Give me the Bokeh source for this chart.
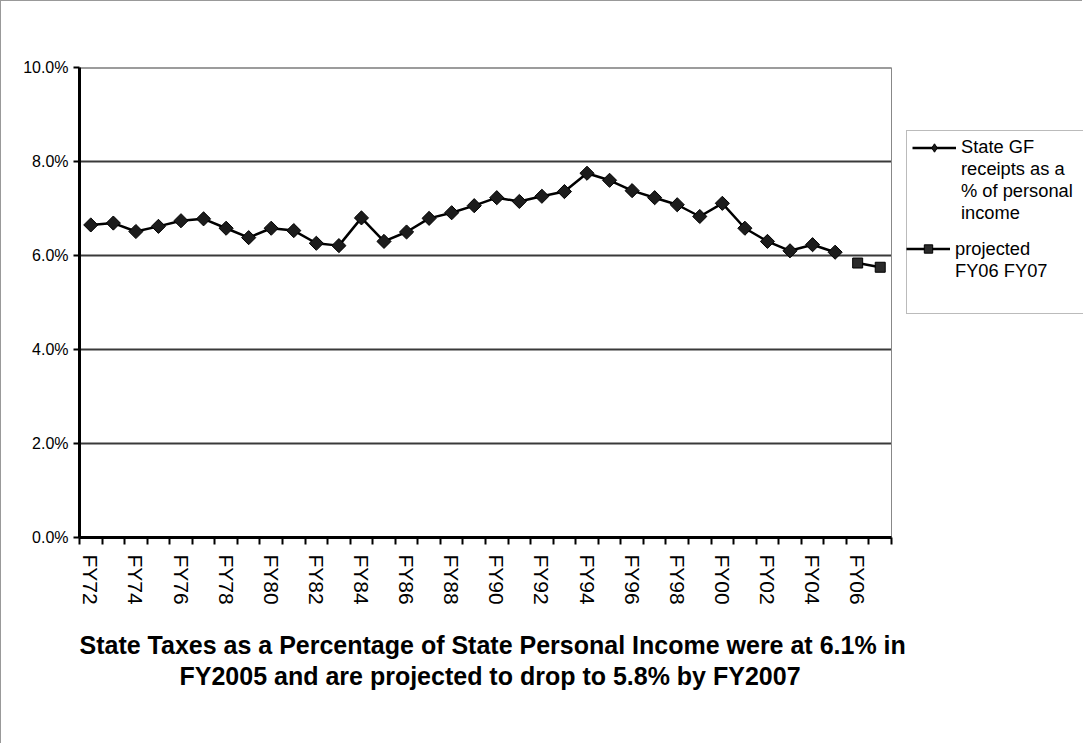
import math
from bokeh.plotting import figure
from bokeh.models import (Range1d, FixedTicker, PrintfTickFormatter, Legend,
                          LegendItem, Title)
from bokeh.embed import file_html
from bokeh.resources import INLINE

# ---- data -------------------------------------------------------------
years = ["FY72", "FY73", "FY74", "FY75", "FY76", "FY77", "FY78", "FY79", "FY80",
         "FY81", "FY82", "FY83", "FY84", "FY85", "FY86", "FY87", "FY88", "FY89",
         "FY90", "FY91", "FY92", "FY93", "FY94", "FY95", "FY96", "FY97", "FY98",
         "FY99", "FY00", "FY01", "FY02", "FY03", "FY04", "FY05", "FY06", "FY07"]
gf_pct = [6.65, 6.69, 6.51, 6.62, 6.74, 6.78, 6.58, 6.38, 6.58, 6.53, 6.26, 6.21,
          6.80, 6.30, 6.50, 6.79, 6.91, 7.06, 7.23, 7.15, 7.26, 7.36, 7.75, 7.60,
          7.38, 7.23, 7.08, 6.83, 7.11, 6.58, 6.30, 6.10, 6.23, 6.07]
proj_years = ["FY06", "FY07"]
proj_pct = [5.84, 5.75]
y_ticks = [0, 2, 4, 6, 8, 10]
label_years = years[::2]
legend_gf = ["State GF", "receipts as a", "% of personal", "income"]
legend_proj = ["projected", "FY06 FY07"]
title_lines = ["State Taxes as a Percentage of State Personal Income were at 6.1% in",
               "FY2005 and are projected to drop to 5.8% by FY2007"]

n = len(years)
gf_x = [years.index(y) for y in years[:len(gf_pct)]]
proj_x = [years.index(y) for y in proj_years]

FONT = "Liberation Sans"
W, H = 1082, 743
LEFT, TOP, BOTTOM = 78, 66, 207
PLOT_W = 812                      # pixel width of the category area
FRAME_W = W - LEFT                # frame also holds the legend on the right
x_lo = -0.5
x_hi = x_lo + n * FRAME_W / PLOT_W

p = figure(width=W, height=H, output_backend="svg", toolbar_location=None,
           x_range=Range1d(x_lo, x_hi), y_range=Range1d(0, 10),
           min_border_left=LEFT, min_border_right=0, min_border_top=TOP,
           min_border_bottom=BOTTOM)
p.background_fill_color = "white"
p.border_fill_color = "white"
p.outline_line_color = None
p.styles = {"border-left": "1px solid #999999", "border-top": "1px solid #999999"}

# x axis: ticks at category boundaries, labels at every other category
xa = p.xaxis[0]
xa.bounds = (-0.5, n - 0.5)
xa.ticker = FixedTicker(ticks=[years.index(y) for y in label_years],
                        minor_ticks=[i - 0.5 for i in range(n + 1)])
xa.major_label_overrides = {years.index(y): y for y in label_years}
xa.major_tick_line_color = None
xa.major_tick_out = 7
xa.major_tick_in = 0
xa.minor_tick_out = 7
xa.minor_tick_in = 0
xa.minor_tick_line_width = 2
xa.minor_tick_line_color = "black"
xa.axis_line_width = 3
xa.axis_line_color = "black"
xa.major_label_orientation = -math.pi / 2
xa.major_label_standoff = 10
xa.major_label_text_font = FONT
xa.major_label_text_font_size = "21px"
xa.major_label_text_color = "black"

ya = p.yaxis[0]
ya.ticker = FixedTicker(ticks=y_ticks)
ya.formatter = PrintfTickFormatter(format="%.1f%%")
ya.minor_tick_line_color = None
ya.major_tick_out = 6
ya.major_tick_in = 0
ya.major_tick_line_width = 2
ya.major_tick_line_color = "black"
ya.axis_line_width = 3
ya.axis_line_color = "black"
ya.major_label_standoff = 5
ya.major_label_text_font = FONT
ya.major_label_text_font_size = "16px"
ya.major_label_text_color = "black"

p.xgrid.visible = False
p.ygrid.visible = False

# gridlines limited to the category area, and its right border
p.segment(x0=[-0.5] * len(y_ticks), x1=[n - 0.5] * len(y_ticks), y0=y_ticks, y1=y_ticks,
          line_color="#3a3a3a", line_width=2)
p.segment(x0=[n - 0.5], x1=[n - 0.5], y0=[y_ticks[0]], y1=[y_ticks[-1]],
          line_color="#888888", line_width=1)

# ---- series -----------------------------------------------------------
r_gf_line = p.line(gf_x, gf_pct, line_color="black", line_width=2.5)
r_gf_pts = p.scatter(gf_x, gf_pct, marker="square", angle=math.pi / 4, size=10,
                     fill_color="#1c1c1c", line_color="black", line_width=1)
r_pr_line = p.line(proj_x, proj_pct, line_color="black", line_width=2.5)
r_pr_pts = p.scatter(proj_x, proj_pct, marker="square", size=10,
                     fill_color="#2a2a2a", line_color="black", line_width=1)
blank = p.scatter(x=[], y=[], marker="square", alpha=0)
# legend-only key marker (not drawn in the plot: NaN position)
gf_key = p.scatter(x=[float("nan")], y=[float("nan")], marker="diamond",
                   fill_color="#1c1c1c", line_color="black", line_width=1)

# ---- legend (inside the widened frame, right of the category area) ----
common = dict(orientation="vertical", padding=5, spacing=0, margin=0,
              glyph_width=44, glyph_height=21, label_height=21, label_width=117,
              label_standoff=5, label_text_font=FONT, label_text_font_size="18.3px",
              label_text_color="black")
items1 = [LegendItem(label=legend_gf[0], renderers=[r_gf_line, gf_key])]
items1 += [LegendItem(label=t, renderers=[blank]) for t in legend_gf[1:]]
items1 += [LegendItem(label="", renderers=[blank]) for _ in range(4)]
leg1 = Legend(items=items1, location=(827, 223),
              border_line_color="#777777", border_line_width=1,
              background_fill_color="white", background_fill_alpha=1, **common)
items2 = [LegendItem(label=legend_proj[0], renderers=[r_pr_line, r_pr_pts]),
          LegendItem(label=legend_proj[1], renderers=[blank])]
leg2 = Legend(items=items2, location=(827, 255.5),
              border_line_color=None, background_fill_alpha=0, **common)
p.add_layout(leg1)
p.add_layout(leg2)

# ---- caption ----------------------------------------------------------
spacer = Title(text=" ", text_font_size="1px", standoff=18)
t1 = Title(text=title_lines[0], align="left", offset=0, standoff=0,
           text_font=FONT, text_font_size="25px", text_font_style="bold",
           text_color="black")
t2 = Title(text=title_lines[1], align="left", offset=100, standoff=2,
           text_font=FONT, text_font_size="25px", text_font_style="bold",
           text_color="black")
p.add_layout(spacer, "below")
p.add_layout(t1, "below")
p.add_layout(t2, "below")

open("out.html", "w").write(file_html(p, INLINE))
